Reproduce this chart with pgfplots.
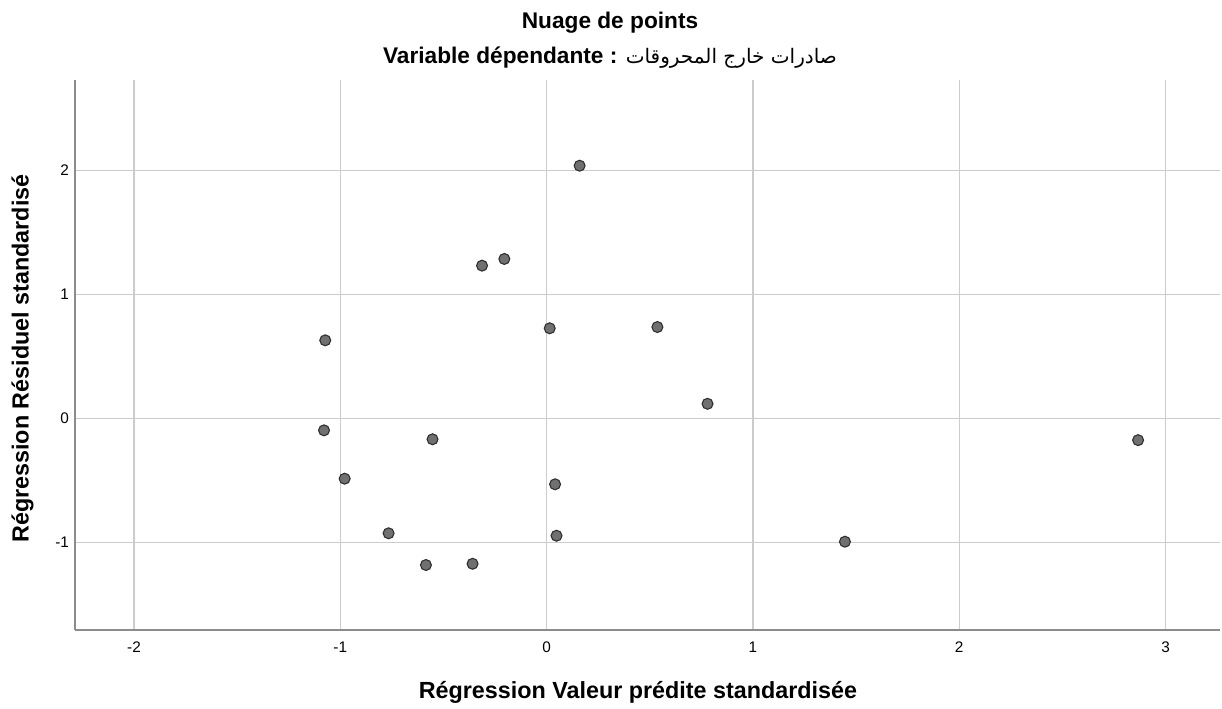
\documentclass[border=0pt]{standalone}
\usepackage{pgfplots}
\pgfplotsset{compat=1.18}
\usepackage{fontspec}
\setmainfont{Liberation Sans}
\newfontfamily\arabicfont[Script=Arabic]{DejaVu Sans}
\TeXXeTstate=1
\definecolor{gridgray}{RGB}{204,204,204}
\definecolor{axisgray}{RGB}{140,140,140}
\definecolor{markfill}{RGB}{112,112,112}
\definecolor{markdraw}{RGB}{45,45,45}
\begin{document}
\begin{tikzpicture}
  % page = 1222x708 px at 0.75pt per px, axis box at px (75..1220, 80..630)
  \path[use as bounding box] (-56.25pt,-58.5pt) rectangle (860.25pt,472.5pt);
  \begin{axis}[
      at={(0pt,0pt)}, anchor=south west,
      scale only axis,
      width=858.75pt, height=412.5pt,
      xmin=-2.286, xmax=3.264,
      ymin=-1.707, ymax=2.728,
      xtick={-2,-1,0,1,2,3},
      ytick={-1,0,1,2},
      axis x line=bottom, axis y line=left,
      axis line style={-, draw=axisgray, line width=1.3pt},
      grid=major,
      grid style={draw=gridgray, line width=1.1pt},
      major tick length=0pt,
      /pgf/number format/assume math mode=true,
      tick label style={font=\fontsize{11.5}{13}\selectfont},
      xticklabel style={yshift=-5pt, text height=1.6ex, text depth=0.2ex},
      yticklabel style={xshift=-1pt},
    ]
    \addplot[only marks, mark=*, mark size=4.1pt,
      mark options={fill=markfill, draw=markdraw, line width=0.8pt}]
      table {
        x       y
        0.160   2.037
        -0.313  1.231
        -0.205  1.285
        -1.073  0.629
        0.015   0.726
        0.537   0.736
        0.780   0.117
        -1.079  -0.097
        -0.553  -0.169
        2.867   -0.176
        -0.979  -0.487
        0.041   -0.532
        -0.766  -0.927
        0.048   -0.947
        1.446   -0.995
        -0.585  -1.183
        -0.359  -1.173
      };
  \end{axis}
  \node[font=\bfseries\fontsize{17}{20}\selectfont] at (401.25pt,455.5pt) {Nuage de points};
  \node[font=\bfseries\fontsize{17}{20}\selectfont] at (401.25pt,429pt)
    {Variable dépendante : {\arabicfont\mdseries\fontsize{15}{18}\selectfont\beginR صادرات خارج المحروقات\endR}};
  \node[font=\bfseries\fontsize{17.5}{20}\selectfont] at (422.25pt,-46.5pt)
    {Régression Valeur prédite standardisée};
  \node[font=\bfseries\fontsize{17.5}{20}\selectfont, rotate=90] at (-39.4pt,203.6pt)
    {Régression Résiduel standardisé};
\end{tikzpicture}
\end{document}
